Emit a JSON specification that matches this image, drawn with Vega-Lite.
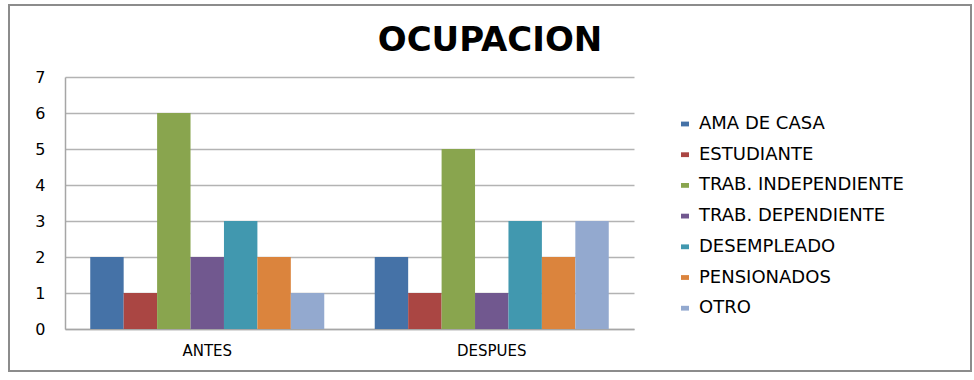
{
  "$schema": "https://vega.github.io/schema/vega-lite/v6.json",
  "width": 962,
  "height": 366,
  "autosize": {"type": "none"},
  "padding": {"left": 9, "top": 5, "right": 3, "bottom": 9},
  "background": "white",
  "title": {"text": "OCUPACION", "font": "DejaVu Sans", "fontSize": 34, "fontWeight": "bold", "color": "black", "anchor": "middle", "frame": "group", "offset": -53},
  "data": {"values": [
    {"periodo": "ANTES", "serie": "AMA DE CASA", "valor": 2},
    {"periodo": "ANTES", "serie": "ESTUDIANTE", "valor": 1},
    {"periodo": "ANTES", "serie": "TRAB. INDEPENDIENTE", "valor": 6},
    {"periodo": "ANTES", "serie": "TRAB. DEPENDIENTE", "valor": 2},
    {"periodo": "ANTES", "serie": "DESEMPLEADO", "valor": 3},
    {"periodo": "ANTES", "serie": "PENSIONADOS", "valor": 2},
    {"periodo": "ANTES", "serie": "OTRO", "valor": 1},
    {"periodo": "DESPUES", "serie": "AMA DE CASA", "valor": 2},
    {"periodo": "DESPUES", "serie": "ESTUDIANTE", "valor": 1},
    {"periodo": "DESPUES", "serie": "TRAB. INDEPENDIENTE", "valor": 5},
    {"periodo": "DESPUES", "serie": "TRAB. DEPENDIENTE", "valor": 1},
    {"periodo": "DESPUES", "serie": "DESEMPLEADO", "valor": 3},
    {"periodo": "DESPUES", "serie": "PENSIONADOS", "valor": 2},
    {"periodo": "DESPUES", "serie": "OTRO", "valor": 3}
  ]},
  "mark": {"type": "bar"},
  "encoding": {
    "x": {
      "field": "periodo", "type": "nominal", "sort": ["ANTES", "DESPUES"],
      "scale": {"range": [56, 625], "paddingInner": 0, "paddingOuter": 0},
      "axis": {"title": null, "labelAngle": 0, "offset": -42, "ticks": false, "grid": false, "domainColor": "#a6a6a6", "domainWidth": 1.5, "labelFont": "DejaVu Sans", "labelFontSize": 15, "labelColor": "black", "labelPadding": 14}
    },
    "xOffset": {
      "field": "serie", "type": "nominal",
      "sort": ["AMA DE CASA", "ESTUDIANTE", "TRAB. INDEPENDIENTE", "TRAB. DEPENDIENTE", "DESEMPLEADO", "PENSIONADOS", "OTRO"],
      "scale": {"paddingInner": 0, "paddingOuter": 0.755}
    },
    "y": {
      "field": "valor", "type": "quantitative",
      "scale": {"domain": [0, 7], "range": [324, 72], "nice": false, "zero": true},
      "axis": {"title": null, "offset": -56, "values": [0, 1, 2, 3, 4, 5, 6, 7], "ticks": false, "grid": true, "gridColor": "#b3b3b3", "gridWidth": 1.5, "domainColor": "#a6a6a6", "domainWidth": 1.5, "labelFont": "DejaVu Sans", "labelFontSize": 16, "labelColor": "black", "labelPadding": 20}
    },
    "color": {
      "field": "serie", "type": "nominal",
      "sort": ["AMA DE CASA", "ESTUDIANTE", "TRAB. INDEPENDIENTE", "TRAB. DEPENDIENTE", "DESEMPLEADO", "PENSIONADOS", "OTRO"],
      "scale": {
        "domain": ["AMA DE CASA", "ESTUDIANTE", "TRAB. INDEPENDIENTE", "TRAB. DEPENDIENTE", "DESEMPLEADO", "PENSIONADOS", "OTRO"],
        "range": ["#4572A7", "#AA4643", "#89A54E", "#71588F", "#4198AF", "#DB843D", "#93A9CF"]
      },
      "legend": {
        "orient": "none", "legendX": 667, "legendY": 110, "title": null,
        "symbolType": "M-1,-0.6H1V0.6H-1Z", "symbolSize": 64, "symbolStrokeWidth": 0,
        "labelFont": "DejaVu Sans", "labelFontSize": 18, "labelColor": "black", "labelLimit": 320,
        "rowPadding": 12.7, "labelOffset": 5, "padding": 0
      }
    }
  },
  "config": {"view": {"stroke": "#8c8c8c", "strokeWidth": 2}}
}
